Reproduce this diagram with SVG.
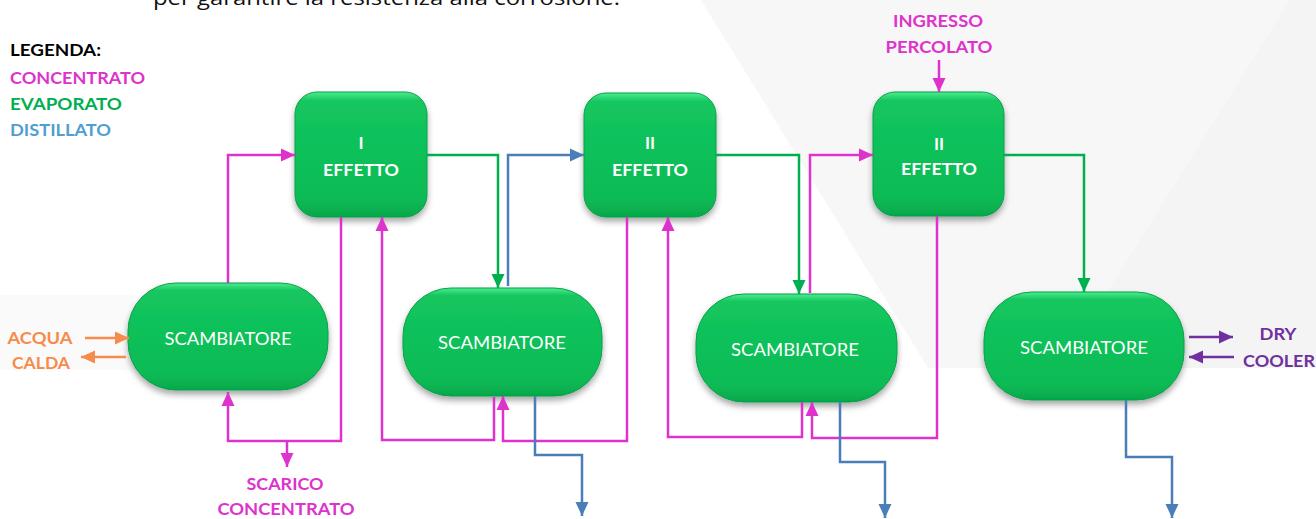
<svg xmlns="http://www.w3.org/2000/svg" width="1316" height="519" viewBox="0 0 1316 519">
<style>
.lbl{font-family:Lato,"Liberation Sans",sans-serif;font-weight:bold;font-size:17px;text-anchor:middle;dominant-baseline:central}
.leg{font-family:Lato,"Liberation Sans",sans-serif;font-weight:bold;font-size:17px;dominant-baseline:central}
.ntxt{font-family:Lato,"Liberation Sans",sans-serif;font-weight:bold;font-size:17px;fill:#ffffff;text-anchor:middle;dominant-baseline:central}
.stxt{font-family:Lato,"Liberation Sans",sans-serif;font-size:17px;fill:#ffffff;text-anchor:middle;dominant-baseline:central}
.node{fill:url(#gfill);stroke:#07a048;stroke-width:1;filter:url(#sh)}
.c{fill:none;stroke-width:2.5;stroke-linejoin:miter}
.mag{stroke:#DD33CC;marker-end:url(#amag)}
.grn{stroke:#00B050;marker-end:url(#agrn)}
.blu{stroke:#4A7EBB;marker-end:url(#ablu)}
.org{stroke:#F68B4B;marker-end:url(#aorg)}
.pur{stroke:#7030A0;marker-end:url(#apur)}
</style>
<defs>
<linearGradient id="gfill" x1="0" y1="0" x2="0" y2="1">
<stop offset="0" stop-color="#4dec90"/>
<stop offset="0.07" stop-color="#14c65e"/>
<stop offset="0.85" stop-color="#09bb55"/>
<stop offset="1" stop-color="#06a84b"/>
</linearGradient>
<filter id="sh" x="-20%" y="-20%" width="140%" height="150%">
<feDropShadow dx="0" dy="4" stdDeviation="3" flood-color="#000" flood-opacity="0.35"/>
</filter>
<marker id="amag" viewBox="0 0 14 14" refX="14" refY="7" markerWidth="14" markerHeight="14" markerUnits="userSpaceOnUse" orient="auto"><path d="M0,0.5 L14,7 L0,13.5 z" fill="#DD33CC"/></marker>
<marker id="agrn" viewBox="0 0 14 14" refX="14" refY="7" markerWidth="14" markerHeight="14" markerUnits="userSpaceOnUse" orient="auto"><path d="M0,0.5 L14,7 L0,13.5 z" fill="#00B050"/></marker>
<marker id="ablu" viewBox="0 0 14 14" refX="14" refY="7" markerWidth="14" markerHeight="14" markerUnits="userSpaceOnUse" orient="auto"><path d="M0,0.5 L14,7 L0,13.5 z" fill="#4A7EBB"/></marker>
<marker id="aorg" viewBox="0 0 14 14" refX="14" refY="7" markerWidth="14" markerHeight="14" markerUnits="userSpaceOnUse" orient="auto"><path d="M0,0.5 L14,7 L0,13.5 z" fill="#F68B4B"/></marker>
<marker id="apur" viewBox="0 0 14 14" refX="14" refY="7" markerWidth="14" markerHeight="14" markerUnits="userSpaceOnUse" orient="auto"><path d="M0,0.5 L14,7 L0,13.5 z" fill="#7030A0"/></marker>
</defs>
<rect x="0" y="0" width="1316" height="519" fill="#ffffff"/>
<g id="background">
<polygon points="701,0 1316,0 1316,368 928,368" fill="#f7f7f7"/>
<polygon points="1290,0 1316,0 1316,368 1060,368" fill="#f4f4f4"/>
<rect x="0" y="295" width="135" height="75" fill="#fafafa"/>
</g>
<text x="153" y="5" font-family="'Open Sans','Liberation Sans',sans-serif" font-size="20" fill="#111" textLength="467" lengthAdjust="spacingAndGlyphs">per garantire la resistenza alla corrosione.</text>
<g id="legend">
<text class="leg" x="10" y="49" fill="#000" textLength="91" lengthAdjust="spacingAndGlyphs">LEGENDA:</text>
<text class="leg" x="10" y="77" fill="#DD33CC" textLength="135" lengthAdjust="spacingAndGlyphs">CONCENTRATO</text>
<text class="leg" x="10" y="103" fill="#00B050" textLength="112" lengthAdjust="spacingAndGlyphs">EVAPORATO</text>
<text class="leg" x="10" y="129" fill="#4F9FD0" textLength="101" lengthAdjust="spacingAndGlyphs">DISTILLATO</text>
</g>
<g id="effetto1"><rect class="node" x="295" y="92" width="132" height="125" rx="22"/><text class="ntxt" x="361" y="142">I</text><text class="ntxt" x="361" y="169" textLength="76" lengthAdjust="spacingAndGlyphs">EFFETTO</text></g>
<g id="effetto2"><rect class="node" x="584" y="93" width="132" height="124" rx="22"/><text class="ntxt" x="650" y="142">II</text><text class="ntxt" x="650" y="169" textLength="76" lengthAdjust="spacingAndGlyphs">EFFETTO</text></g>
<g id="effetto3"><rect class="node" x="873" y="92" width="131" height="124" rx="22"/><text class="ntxt" x="939" y="143">II</text><text class="ntxt" x="939" y="168" textLength="76" lengthAdjust="spacingAndGlyphs">EFFETTO</text></g>
<g id="scambiatore1"><rect class="node" x="128" y="283" width="200" height="107" rx="48"/><text class="stxt" x="228" y="338" textLength="127" lengthAdjust="spacingAndGlyphs">SCAMBIATORE</text></g>
<g id="scambiatore2"><rect class="node" x="403" y="288" width="199" height="108" rx="48"/><text class="stxt" x="502" y="342" textLength="128" lengthAdjust="spacingAndGlyphs">SCAMBIATORE</text></g>
<g id="scambiatore3"><rect class="node" x="696" y="294" width="201" height="108" rx="48"/><text class="stxt" x="795" y="349" textLength="128" lengthAdjust="spacingAndGlyphs">SCAMBIATORE</text></g>
<g id="scambiatore4"><rect class="node" x="984" y="292" width="200" height="108" rx="48"/><text class="stxt" x="1084" y="347" textLength="128" lengthAdjust="spacingAndGlyphs">SCAMBIATORE</text></g>
<g id="connectors">
<path class="c mag" d="M228,283 V155 H295"/>
<path class="c mag" d="M341,217 V441 H228 V392"/>
<path class="c mag" d="M287,441 V467"/>
<path class="c mag" d="M494,397 V440 H382 V217"/>
<path class="c mag" d="M627,217 V441 H503 V396"/>
<path class="c mag" d="M802,402 V437 H668 V217"/>
<path class="c mag" d="M937,216 V438 H812 V402"/>
<path class="c mag" d="M810,293 V155 H873"/>
<path class="c mag" d="M939,60 V92"/>
<path class="c grn" d="M427,155 H498 V288"/>
<path class="c grn" d="M716,155 H799 V294"/>
<path class="c grn" d="M1004,155 H1084 V292"/>
<path class="c blu" d="M508,286 V155 H584"/>
<path class="c blu" d="M535,396 V455 H582 V516"/>
<path class="c blu" d="M840,402 V462 H885 V518"/>
<path class="c blu" d="M1126,400 V457 H1172 V518"/>
<path class="c org" d="M85,338 H129"/>
<path class="c org" d="M126,357 H81"/>
<path class="c pur" d="M1189,337 H1233"/>
<path class="c pur" d="M1234,357 H1189"/>
</g>
<g id="labels">
<text class="lbl" x="938" y="20" fill="#DD33CC" textLength="90" lengthAdjust="spacingAndGlyphs">INGRESSO</text>
<text class="lbl" x="939" y="46" fill="#DD33CC" textLength="107" lengthAdjust="spacingAndGlyphs">PERCOLATO</text>
<text class="lbl" x="285" y="483" fill="#DD33CC" textLength="77" lengthAdjust="spacingAndGlyphs">SCARICO</text>
<text class="lbl" x="286" y="508" fill="#DD33CC" textLength="137" lengthAdjust="spacingAndGlyphs">CONCENTRATO</text>
<text class="lbl" x="40" y="337" fill="#F68B4B" textLength="65" lengthAdjust="spacingAndGlyphs">ACQUA</text>
<text class="lbl" x="41" y="362" fill="#F68B4B" textLength="58" lengthAdjust="spacingAndGlyphs">CALDA</text>
<text class="lbl" x="1278" y="333" fill="#7030A0" textLength="37" lengthAdjust="spacingAndGlyphs">DRY</text>
<text class="lbl" x="1279" y="360" fill="#7030A0" textLength="72" lengthAdjust="spacingAndGlyphs">COOLER</text>
</g>
</svg>
